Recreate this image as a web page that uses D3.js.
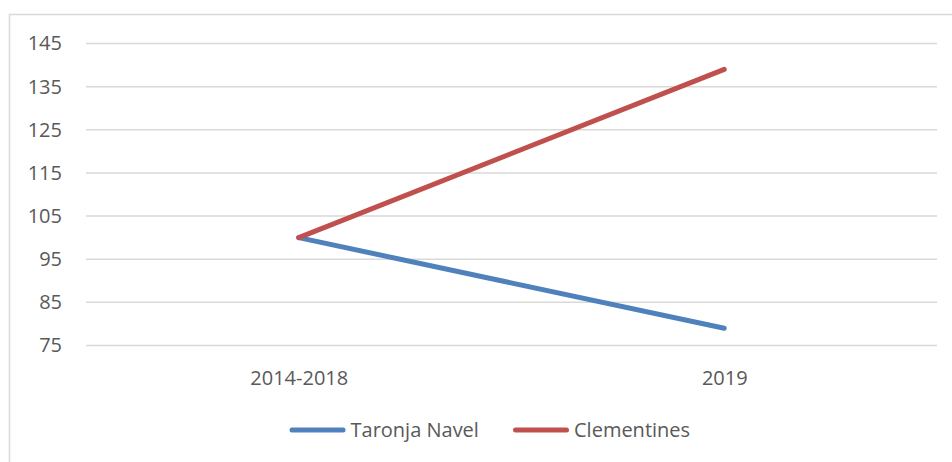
<!DOCTYPE html>
<html>
<head>
<meta charset="utf-8">
<script src="https://cdn.jsdelivr.net/npm/d3@7"></script>
<style>
  body { margin: 0; background: #fff; }
  text { font-family: "Open Sans", "Liberation Sans", sans-serif; fill: #595959; }
</style>
</head>
<body>
<div id="chart"></div>
<script>
// data
const categories = ["2014-2018", "2019"];
const navel = [100, 79];
const clementines = [100, 139];
const yTicks = [75, 85, 95, 105, 115, 125, 135, 145];
const seriesNames = ["Taronja Navel", "Clementines"];
const seriesColors = ["#4F81BD", "#C0504D"];

const width = 952, height = 462;
const margin = { top: 43.5, right: 15, bottom: 116.5, left: 86 };
const fontSize = "20px";

const svg = d3.select("#chart").append("svg")
  .attr("width", width)
  .attr("height", height);

// outer chart border (right and bottom run off the picture)
svg.append("rect")
  .attr("x", 9.5).attr("y", 14.5)
  .attr("width", 950).attr("height", 460)
  .attr("fill", "none")
  .attr("stroke", "#d9d9d9")
  .attr("stroke-width", 1.5);

const x = d3.scalePoint()
  .domain(categories)
  .range([margin.left, width - margin.right])
  .padding(0.5);

const y = d3.scaleLinear()
  .domain([75, 145])
  .range([height - margin.bottom, margin.top]);

// gridlines
svg.append("g")
  .selectAll("line")
  .data(yTicks)
  .join("line")
    .attr("x1", margin.left)
    .attr("x2", width - margin.right)
    .attr("y1", d => y(d))
    .attr("y2", d => y(d))
    .attr("stroke", "#d9d9d9")
    .attr("stroke-width", 1.5);

// y axis labels
const yAxis = d3.axisLeft(y).tickValues(yTicks).tickSize(0).tickPadding(24);
svg.append("g")
  .attr("transform", "translate(" + margin.left + ",0)")
  .call(yAxis)
  .call(g => g.select(".domain").remove())
  .call(g => g.selectAll("text").style("font-size", fontSize).attr("fill", "#595959"));

// x axis labels
const xAxis = d3.axisBottom(x).tickSize(0).tickPadding(25);
svg.append("g")
  .attr("transform", "translate(0," + (height - margin.bottom) + ")")
  .call(xAxis)
  .call(g => g.select(".domain").remove())
  .call(g => g.selectAll("text").style("font-size", fontSize).attr("fill", "#595959"));

// lines
const line = d3.line()
  .x((d, i) => x(categories[i]))
  .y(d => y(d));

[navel, clementines].forEach((vals, i) => {
  svg.append("path")
    .datum(vals)
    .attr("d", line)
    .attr("fill", "none")
    .attr("stroke", seriesColors[i])
    .attr("stroke-width", 5)
    .attr("stroke-linecap", "round")
    .attr("stroke-linejoin", "round");
});

// legend
const legendX = [289.5, 513];
const legend = svg.append("g")
  .selectAll("g")
  .data(seriesNames)
  .join("g")
    .attr("transform", (d, i) => "translate(" + legendX[i] + ",430)");

legend.append("line")
  .attr("x1", 2.5).attr("x2", 53.5)
  .attr("stroke", (d, i) => seriesColors[i])
  .attr("stroke-width", 5)
  .attr("stroke-linecap", "round");

legend.append("text")
  .attr("x", 61)
  .attr("dy", "0.35em")
  .style("font-size", fontSize)
  .text(d => d);
</script>
</body>
</html>
